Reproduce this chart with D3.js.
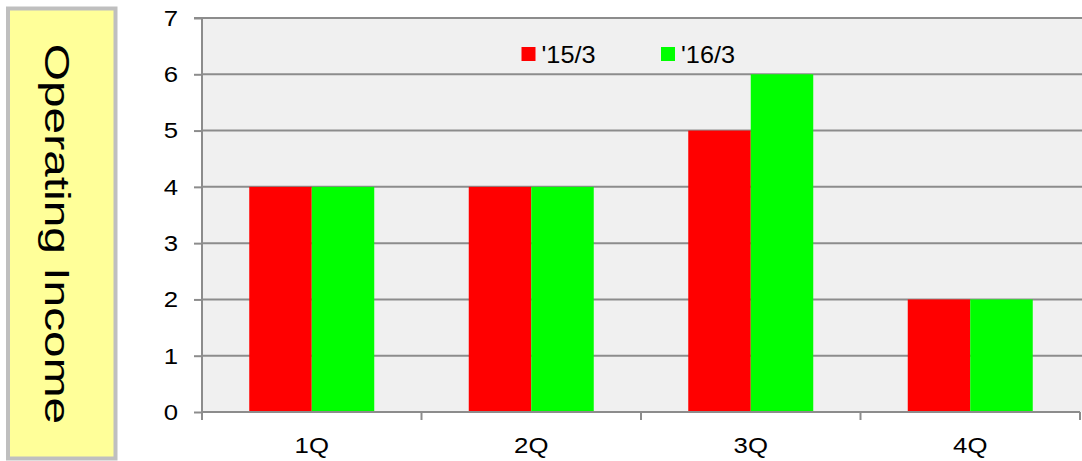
<!DOCTYPE html>
<html>
<head>
<meta charset="utf-8">
<script src="https://cdn.jsdelivr.net/npm/d3@7"></script>
<style>
  html, body { margin: 0; padding: 0; background: #ffffff; }
  svg { display: block; font-family: "Liberation Sans", Arial, sans-serif; }
</style>
</head>
<body>
<svg id="chart" width="1082" height="461"></svg>
<script>
// ---- data ----
const categories = ["1Q", "2Q", "3Q", "4Q"];
const seriesNames = ["'15/3", "'16/3"];
const values1503 = [4, 4, 5, 2];
const values1603 = [4, 4, 6, 2];
const yTicks = [0, 1, 2, 3, 4, 5, 6, 7];
const colors = ["#ff0000", "#00ff00"];
const yTitle = "Operating Income";

const seriesValues = [values1503, values1603];

const svg = d3.select("#chart");

// ---- title box ----
svg.append("rect")
  .attr("x", 8).attr("y", 8.5).attr("width", 107.5).attr("height", 450)
  .attr("fill", "#ffff99").attr("stroke", "#bfbfbf").attr("stroke-width", 4);
svg.append("text")
  .attr("transform", "translate(44.5,234) rotate(90) scale(1.33,1)")
  .attr("text-anchor", "middle")
  .attr("font-size", 36)
  .attr("fill", "#000")
  .text(yTitle);

// ---- plot ----
const pLeft = 202, pRight = 1080, pTop = 18, pBottom = 412;
const x0 = d3.scaleBand().domain(categories).range([pLeft, pRight]).paddingInner(0).paddingOuter(0);
const x1 = d3.scaleBand().domain(seriesNames).range([0, x0.bandwidth()]).paddingInner(0).paddingOuter(0.756);
const y = d3.scaleLinear().domain([0, 7]).range([pBottom, pTop]);

svg.append("rect")
  .attr("x", pLeft).attr("y", pTop).attr("width", pRight - pLeft + 2).attr("height", pBottom - pTop)
  .attr("fill", "#f0f0f0");

// gridlines
svg.append("g").selectAll("line").data(yTicks.filter(d => d > 0)).join("line")
  .attr("x1", pLeft).attr("x2", 1082)
  .attr("y1", d => y(d)).attr("y2", d => y(d))
  .attr("stroke", "#8c8c8c").attr("stroke-width", 2);

// bars
const groups = svg.append("g").selectAll("g").data(categories).join("g")
  .attr("transform", d => `translate(${x0(d)},0)`);
groups.selectAll("rect")
  .data((c, i) => seriesNames.map((s, j) => ({ s, v: seriesValues[j][i], j })))
  .join("rect")
  .attr("x", d => x1(d.s))
  .attr("width", x1.bandwidth())
  .attr("y", d => y(d.v))
  .attr("height", d => y(0) - y(d.v))
  .attr("fill", d => colors[d.j]);

// y axis
const yAxis = d3.axisLeft(y).tickValues(yTicks).tickSize(8).tickPadding(14).tickFormat(d3.format("d"));
const gy = svg.append("g").attr("transform", `translate(${pLeft},0)`).call(yAxis);
gy.select(".domain").attr("stroke", "#8c8c8c").attr("stroke-width", 2).attr("d", `M-8,${pTop}H0V${pBottom}`);
gy.selectAll(".tick line").attr("stroke", "#8c8c8c").attr("stroke-width", 2);
gy.selectAll(".tick text").attr("font-size", 23).attr("fill", "#000")
  .attr("font-family", "Liberation Sans, Arial, sans-serif")
  .attr("transform", "scale(1.12,1)").attr("x", -24 / 1.12);

// x axis
const tickPositions = d3.range(categories.length + 1).map(i => pLeft + i * x0.step());
const gx = svg.append("g");
gx.append("line").attr("x1", pLeft).attr("x2", pRight).attr("y1", pBottom).attr("y2", pBottom)
  .attr("stroke", "#8c8c8c").attr("stroke-width", 2);
gx.selectAll("line.t").data(tickPositions).join("line").attr("class", "t")
  .attr("x1", d => d).attr("x2", d => d).attr("y1", pBottom).attr("y2", pBottom + 8)
  .attr("stroke", "#8c8c8c").attr("stroke-width", 2);
gx.selectAll("text").data(categories).join("text")
  .attr("transform", d => `translate(${x0(d) + x0.bandwidth() / 2},452.5) scale(1.12,1)`)
  .attr("text-anchor", "middle").attr("font-size", 23).attr("fill", "#000")
  .text(d => d);

// legend
const legendX = [521.5, 661];
const lg = svg.append("g").selectAll("g").data(seriesNames).join("g")
  .attr("transform", (d, i) => `translate(${legendX[i]},47)`);
lg.append("rect").attr("width", 14).attr("height", 14).attr("fill", (d, i) => colors[i]);
lg.append("text").attr("transform", "translate(20,15.5) scale(1.1,1)")
  .attr("font-size", 23).attr("fill", "#000").text(d => d);
</script>
</body>
</html>
